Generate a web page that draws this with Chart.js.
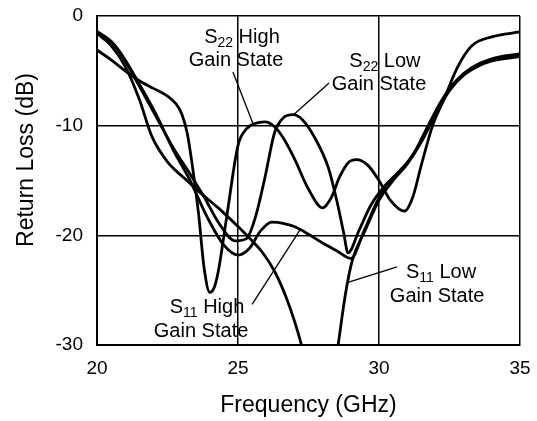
<!DOCTYPE html>
<html><head><meta charset="utf-8">
<script src="https://cdn.jsdelivr.net/npm/chart.js@4.4.1/dist/chart.umd.min.js"></script>
<style>html,body{margin:0;padding:0;background:#fff}#wrap{width:537px;height:421px}</style>
</head><body><div id="wrap"><canvas id="c" width="537" height="421"></canvas></div>
<script>
// ---- axis ticks ----
const xTicks = [20, 25, 30, 35];
const yTicks = [0, -10, -20, -30];
const xTitle = 'Frequency (GHz)';
const yTitle = 'Return Loss (dB)';

// ---- series (frequency in GHz, return loss in dB) ----
const s22HighFreq = [20, 20.5, 21, 21.5, 22, 22.5, 22.8, 23.0, 23.2, 23.4, 23.6, 23.8, 24.0, 24.15, 24.3, 24.6, 25.0, 25.3, 25.6, 25.95, 26.3, 26.6, 27.0, 27.5, 28.0, 28.3, 28.6, 28.9, 29.2, 29.6, 30.0, 30.4, 30.9, 31.2, 31.5, 31.9, 32.3, 32.8, 33.3, 34, 35];
const s22HighLoss = [-3.1, -4.0, -5.0, -5.9, -6.6, -7.3, -8.0, -8.9, -10.7, -14.0, -18.0, -23.0, -25.2, -24.8, -23.3, -18.3, -11.8, -10.3, -9.8, -9.65, -10.1, -11.1, -13.0, -15.8, -17.5, -16.6, -14.7, -13.4, -13.1, -13.6, -15.0, -16.8, -17.8, -16.5, -13.6, -10.0, -7.6, -4.6, -2.7, -1.9, -1.45];

const s22LowFreq = [20, 20.5, 20.9, 21.5, 22.1, 22.7, 23.3, 23.8, 24.3, 24.9, 25.3, 25.6, 25.95, 26.3, 26.6, 26.95, 27.3, 27.7, 28.2, 28.5, 28.75, 28.9, 29.3, 29.7, 30.2, 30.7, 31.2, 31.7, 32.2, 32.7, 33.3, 34, 35];
const s22LowLoss = [-1.5, -2.4, -3.7, -6.4, -9.2, -12.0, -14.4, -16.5, -18.8, -20.5, -20.3, -18.5, -14.8, -10.6, -9.3, -9.0, -9.5, -11.0, -13.8, -16.8, -19.8, -21.6, -19.5, -17.3, -15.5, -14.2, -12.7, -10.2, -7.8, -6.0, -4.7, -3.9, -3.45];

const s11HighFreq = [20, 20.5, 20.9, 21.5, 22.1, 22.7, 23.3, 23.9, 24.5, 25.0, 25.4, 25.8, 26.2, 26.6, 27.0, 27.5, 28.0, 28.5, 29.0, 29.5, 30.0, 30.5, 31.0, 31.5, 32.0, 32.5, 33.0, 33.5, 34, 35];
const s11HighLoss = [-1.4, -2.3, -3.6, -6.2, -9.0, -12.2, -15.0, -18.3, -20.9, -21.8, -21.2, -19.6, -18.8, -18.9, -19.2, -19.9, -20.7, -21.4, -22.1, -19.4, -16.6, -14.9, -13.4, -11.4, -8.9, -6.7, -5.3, -4.5, -4.0, -3.6];

const s11LowFreq = [20, 20.5, 21, 21.5, 21.95, 22.5, 23.1, 23.7, 24.3, 25.0, 25.5, 25.85, 26.3, 26.7, 27.0, 27.25, 27.6, 28.0, 28.3, 28.55, 28.8, 29.05, 29.5, 30.0, 30.5, 31.0, 31.5, 32.0, 32.5, 33.0, 33.5, 34, 35];
const s11LowLoss = [-1.6, -2.7, -4.6, -7.6, -11.0, -13.3, -14.8, -16.2, -17.5, -19.2, -20.5, -21.5, -23.3, -25.6, -27.8, -30.0, -34.0, -36.0, -34.0, -30.0, -25.5, -22.3, -19.6, -16.8, -15.0, -13.5, -11.5, -9.0, -6.8, -5.4, -4.6, -4.1, -3.7];

// ---- curve labels ----
const labelTexts = [
  {sub: '22', rest: ' High', line2: 'Gain State'},
  {sub: '22', rest: ' Low', line2: 'Gain State'},
  {sub: '11', rest: ' High', line2: 'Gain State'},
  {sub: '11', rest: ' Low', line2: 'Gain State'}
];

function pts(fs, vs) { return fs.map((f, i) => ({x: f, y: vs[i]})); }

const seriesStyle = {borderColor: '#000', borderWidth: 2.8, pointRadius: 0, fill: false, cubicInterpolationMode: 'monotone', clip: 0};
const datasets = [
  Object.assign({label: 'S22 High Gain State', data: pts(s22HighFreq, s22HighLoss)}, seriesStyle),
  Object.assign({label: 'S22 Low Gain State', data: pts(s22LowFreq, s22LowLoss)}, seriesStyle),
  Object.assign({label: 'S11 High Gain State', data: pts(s11HighFreq, s11HighLoss)}, seriesStyle),
  Object.assign({label: 'S11 Low Gain State', data: pts(s11LowFreq, s11LowLoss)}, seriesStyle)
];

// label placement (data units): line centres/baselines and leader line ends
const labelPlacement = [
  {l1: [25.14, -2.46], l2: [24.93, -4.56], lead: [[24.82, -5.1], [25.53, -9.8]]},
  {l1: [30.21, -4.65], l2: [30.0, -6.79], lead: [[28.23, -6.1], [26.95, -9.05]]},
  {l1: [23.9, -27.07], l2: [23.69, -29.26], lead: [[25.5, -26.3], [27.2, -19.5]]},
  {l1: [32.2, -23.88], l2: [32.06, -26.07], lead: [[30.64, -22.88], [28.9, -24.3]]}
];

const FONT = '"Liberation Sans", Arial, Helvetica, sans-serif';

const annotPlugin = {
  id: 'annot',
  afterDraw(chart) {
    const ctx = chart.ctx, xs = chart.scales.x, ys = chart.scales.y;
    ctx.save();
    ctx.fillStyle = '#000';
    ctx.strokeStyle = '#000';
    ctx.textBaseline = 'alphabetic';
    ctx.textAlign = 'left';
    labelTexts.forEach((t, i) => {
      const p = labelPlacement[i];
      const main = '20px ' + FONT, sub = '14px ' + FONT;
      ctx.font = main; const wS = ctx.measureText('S').width; const wR = ctx.measureText(t.rest).width;
      ctx.font = sub; const wSub = ctx.measureText(t.sub).width;
      const w = wS + wSub + wR;
      let x = xs.getPixelForValue(p.l1[0]) - w / 2;
      const by = ys.getPixelForValue(p.l1[1]);
      ctx.font = main; ctx.fillText('S', x, by); x += wS;
      ctx.font = sub; ctx.fillText(t.sub, x, by + 4); x += wSub;
      ctx.font = main; ctx.fillText(t.rest, x, by);
      ctx.textAlign = 'center';
      ctx.fillText(t.line2, xs.getPixelForValue(p.l2[0]), ys.getPixelForValue(p.l2[1]));
      ctx.textAlign = 'left';
      ctx.lineWidth = 1.3;
      ctx.beginPath();
      ctx.moveTo(xs.getPixelForValue(p.lead[0][0]), ys.getPixelForValue(p.lead[0][1]));
      ctx.lineTo(xs.getPixelForValue(p.lead[1][0]), ys.getPixelForValue(p.lead[1][1]));
      ctx.stroke();
    });
    ctx.font = '23px ' + FONT;
    ctx.textAlign = 'center';
    ctx.textBaseline = 'middle';
    ctx.translate(27, 160);
    ctx.rotate(-Math.PI / 2);
    ctx.fillText(yTitle, 0, 0);
    ctx.restore();
  }
};

new Chart(document.getElementById('c'), {
  type: 'line',
  data: {datasets},
  plugins: [annotPlugin],
  options: {
    responsive: false,
    devicePixelRatio: 1,
    animation: false,
    layout: {padding: {left: 0, top: 16, right: 17, bottom: 0}},
    plugins: {legend: {display: false}, tooltip: {enabled: false}},
    scales: {
      x: {
        type: 'linear', min: 20, max: 35,
        afterBuildTicks: s => { s.ticks = xTicks.map(v => ({value: v})); },
        afterFit: s => { s.height = 76; },
        grid: {color: '#000', lineWidth: 1.5, drawTicks: true, tickLength: 12, tickColor: 'rgba(0,0,0,0)'},
        border: {display: true, color: '#000', width: 2},
        ticks: {color: '#000', padding: 0, font: {family: FONT, size: 19}},
        title: {display: true, text: xTitle, color: '#000', font: {family: FONT, size: 23}, padding: {top: 0, bottom: 2}}
      },
      y: {
        type: 'linear', min: -30, max: 0,
        afterBuildTicks: s => { s.ticks = yTicks.map(v => ({value: v})); },
        afterFit: s => { s.width = 97; },
        grid: {color: '#000', lineWidth: 1.5, drawTicks: true, tickLength: 14, tickColor: 'rgba(0,0,0,0)'},
        border: {display: true, color: '#000', width: 2},
        ticks: {color: '#000', padding: 0, font: {family: FONT, size: 19}}
      }
    }
  }
});
</script>
</body></html>
